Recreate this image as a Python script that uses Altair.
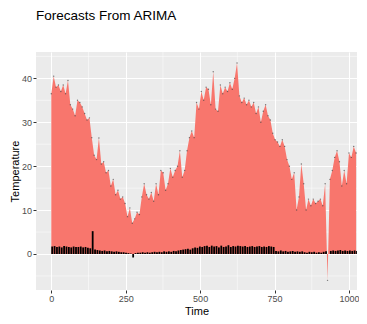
import altair as alt
import pandas as pd

STEP = 8
temps = [36.5, 40.5, 38, 38.5, 37, 38.5, 36.5, 39.5, 34, 33, 31.5, 35, 34.5, 33.5, 32, 30.5,
         31, 26.5, 22.5, 21.5, 26.4, 20.5, 21, 18.5, 19, 15.5, 17, 13.5, 14.5, 12.5, 13, 11.5,
         8.5, 10.5, 7, 8, 9.5, 9, 13, 16, 13.5, 12.5, 14, 12, 16, 13.5, 19, 18.5,
         14.5, 16, 19.5, 17.5, 19, 20, 23.5, 17.5, 19, 23.5, 26.5, 28, 26.5, 34.5,
         33, 37, 35, 38, 37.5, 34, 41.5, 33, 32.5, 38.5, 36.5, 38, 37, 39, 37.5, 40,
         43.5, 36, 34.5, 35.5, 34, 35, 33.5, 34.5, 32, 33.5, 30, 32.5, 34, 31.5, 30.5, 27.5,
         26, 25.5, 24.5, 26, 24.5, 21.5, 20, 17, 18.5, 10, 13, 20.5, 16, 10, 12.5, 11,
         12.5, 11.5, 12, 12.5, 11, 16, -6, 17, 19, 22, 23.5, 21, 15.5, 19, 16, 23,
         22, 24.5, 23]
other = [1.7, 1.8, 1.6, 1.7, 1.5, 1.8, 1.7, 1.6, 1.5, 1.7, 1.6, 1.6, 1.7, 1.5, 1.6, 1.4,
         1.3, 5.2, 1.0, 0.9, 0.8, 0.7, 0.8, 0.6, 0.7, 0.6, 0.5, 0.6, 0.5, 0.4, 0.4, 0.3,
         0.2, 0.1, -0.8, 0.2, 0.3, 0.3, 0.4, 0.3, 0.4, 0.3, 0.4, 0.5, 0.4, 0.5, 0.4, 0.6,
         0.5, 0.6, 0.5, 0.7, 0.6, 0.8, 0.9, 1.0, 1.1, 1.2, 1.0, 1.3, 1.5, 1.4,
         1.7, 1.6, 1.8, 1.9, 1.6, 1.9, 1.7, 1.8, 1.5, 1.9, 1.6, 1.7, 2.0, 1.6, 1.8, 1.7,
         1.9, 1.8, 1.7, 1.8, 1.6, 1.7, 1.8, 1.6, 1.7, 1.8, 1.6, 1.7, 1.6, 1.8, 1.7, 1.6,
         0.7, 0.6, 0.8, 0.6, 0.7, 0.5, 0.6, 0.7, 0.5, 0.6, 0.5, 0.6, 0.4, 0.3, 0.5, 0.4,
         0.5, 0.3, 0.4, 0.3, 0.5, 0.6, 0.0, 0.7, 0.8, 0.7, 0.8, 0.9, 0.7, 0.8, 0.7, 0.8,
         0.7, 0.8, 0.7]
x_minor = [125, 375, 625, 875]
y_minor = [-5, 5, 15, 25, 35, 45]

times = [i * STEP for i in range(len(temps))]
df = pd.DataFrame({"t": times, "temp": temps, "other": other})
df["t_end2"] = df["t"] + STEP * 0.75
df["zero"] = 0.0

xs = alt.Scale(domain=[-51.4, 1027], nice=False, zero=False)
ys = alt.Scale(domain=[-8.2, 46], nice=False, zero=False)

xaxis = alt.Axis(values=[0, 250, 500, 750, 1000], title="Time", grid=True, format="d")
yaxis = alt.Axis(values=[0, 10, 20, 30, 40], title="Temperature", grid=True)

vminor = alt.Chart(pd.DataFrame({"v": x_minor})).mark_rule(color="white", strokeWidth=0.5).encode(
    x=alt.X("v:Q", scale=xs, axis=xaxis))
hminor = alt.Chart(pd.DataFrame({"v": y_minor})).mark_rule(color="white", strokeWidth=0.5).encode(
    y=alt.Y("v:Q", scale=ys, axis=yaxis))

red = alt.Chart(df).mark_area(color="#F8766D", opacity=1, clip=True).encode(
    x=alt.X("t:Q", scale=xs, axis=xaxis),
    y=alt.Y("temp:Q", scale=ys, axis=yaxis), y2="zero:Q")
dots = alt.Chart(df).mark_circle(color="#444444", size=2, opacity=0.7, clip=True).encode(
    x=alt.X("t:Q", scale=xs), y=alt.Y("temp:Q", scale=ys))
black = alt.Chart(df).mark_rect(color="black", clip=True).encode(
    x=alt.X("t:Q", scale=xs), x2="t_end2:Q",
    y=alt.Y("other:Q", scale=ys), y2="zero:Q")

chart = alt.layer(vminor, hminor, red, dots, black).properties(
    width=321, height=238,
    title=alt.TitleParams("Forecasts From ARIMA", anchor="start", fontSize=13.5, frame="group",
                          font="Liberation Sans", fontWeight="normal",
                          color="black", offset=29),
    autosize=alt.AutoSizeParams(type="none"),
    padding={"left": 28, "top": 44, "right": 2, "bottom": 26},
).configure_view(fill="#EBEBEB", stroke=None).configure_axis(
    gridColor="white", gridWidth=1.1, domain=False, tickColor="#333333", tickSize=3,
    labelColor="#4D4D4D", labelFont="Liberation Sans", labelFontSize=9, labelPadding=1.5,
    titleFont="Liberation Sans", titleFontSize=11, titleFontWeight="normal", titleColor="black",
).configure_axisX(titlePadding=2).configure_axisY(titlePadding=1)

chart.save("out.html", embed_options={"renderer": "svg", "actions": False})
